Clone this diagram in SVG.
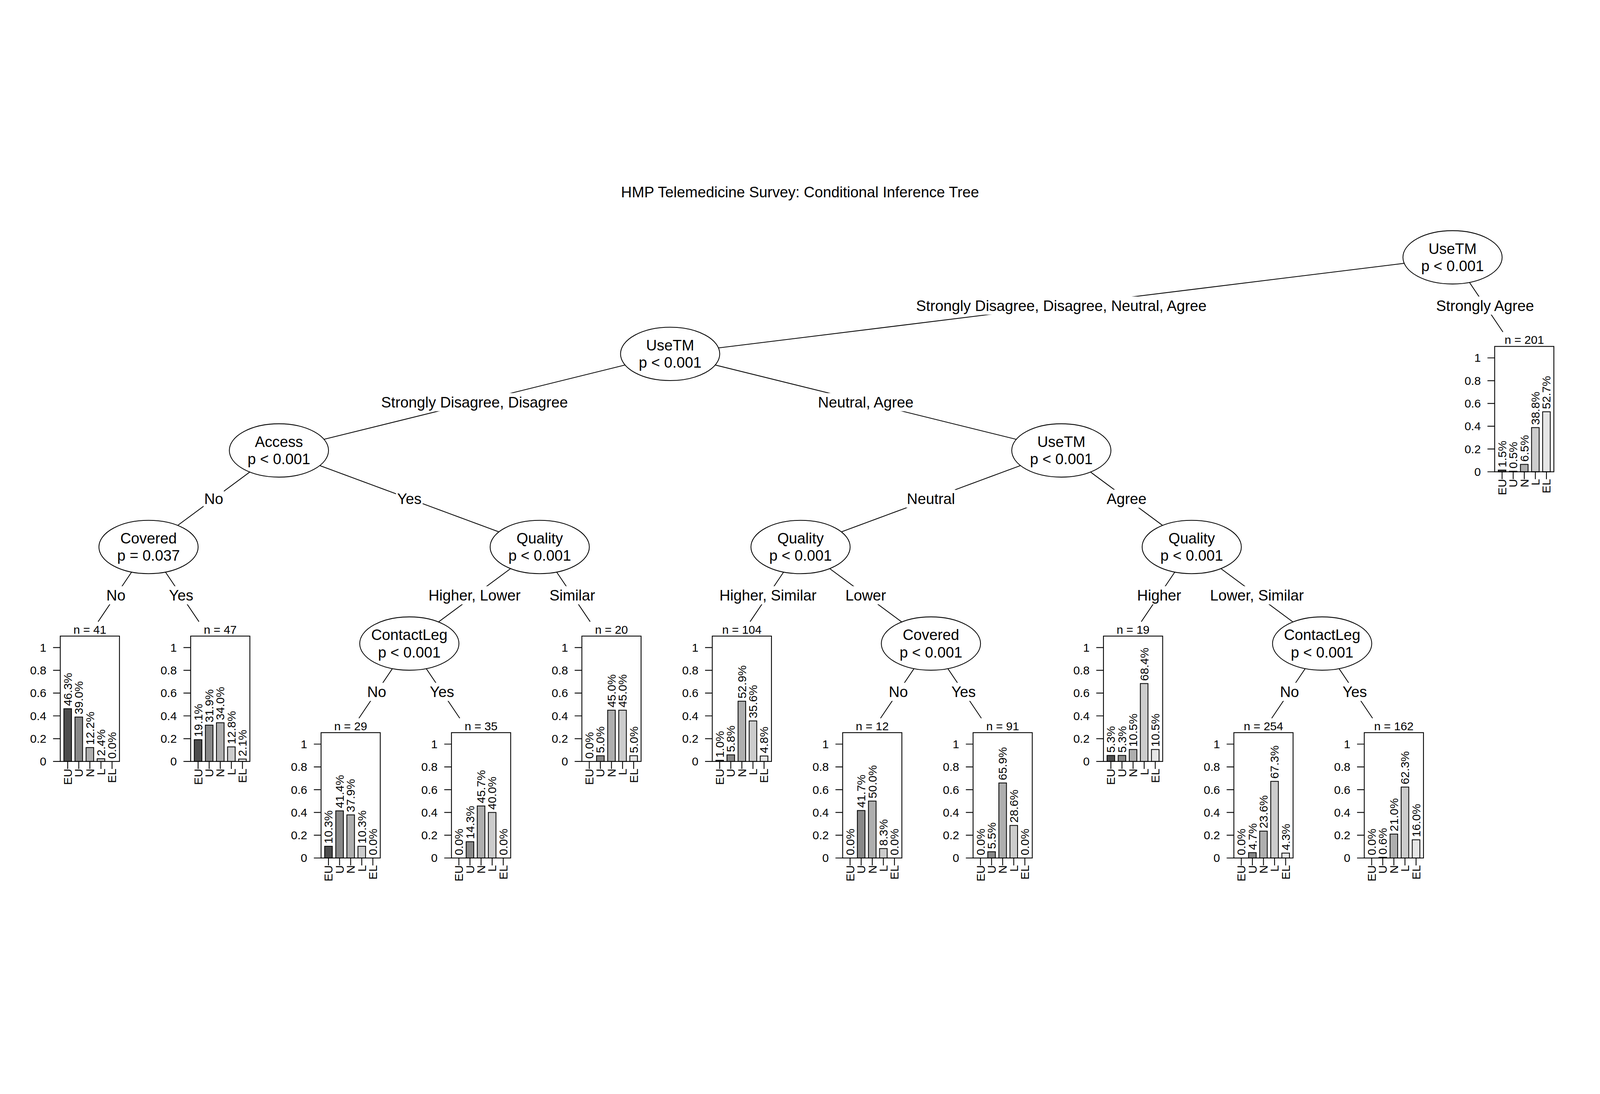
<svg xmlns="http://www.w3.org/2000/svg" width="6000" height="2800" viewBox="0 0 6000 2800">
<style>
svg{width:100vw;height:100vh;display:block}
text{font-family:"Liberation Sans",Arial,sans-serif;fill:#000}
.f56{font-size:56px}
.f44{font-size:44px}
.m{text-anchor:middle}
.e{text-anchor:end}
.edge{stroke:#000;stroke-width:3;fill:none}
.lb{fill:#fff;stroke:none}
.node ellipse{fill:#fff;stroke:#000;stroke-width:3}
.box{fill:none;stroke:#000;stroke-width:3.2}
.tk{stroke:#000;stroke-width:3.2;fill:none}
.c0,.c1,.c2,.c3,.c4{stroke:#000;stroke-width:3}
.c0{fill:#4D4D4D}.c1{fill:#888888}.c2{fill:#AEAEAE}.c3{fill:#CCCCCC}.c4{fill:#E6E6E6}
</style>
<rect x="0" y="0" width="6000" height="2800" fill="#fff"/>
<text class="f56 m" x="3000" y="89">HMP Telemedicine Survey: Conditional Inference Tree</text>

<g id="connectors">
<path class="edge" d="M5447 314L2513 676M5447 314L5636 594M2513 676L1046 1038M2513 676L3980 1038M1046 1038L557 1400M1046 1038L2024 1400M3980 1038L3002 1400M3980 1038L4469 1400M557 1400L367.9 1680M557 1400L746.1 1680M2024 1400L1535 1762M2024 1400L2213.1 1680M3002 1400L2812.9 1680M3002 1400L3491 1762M4469 1400L4279.9 1680M4469 1400L4958 1762M1535 1762L1345.9 2042M1535 1762L1724.1 2042M3491 1762L3301.9 2042M3491 1762L3680.1 2042M4958 1762L4768.9 2042M4958 1762L5147.1 2042"/>
<rect class="lb" x="3426" y="461" width="1108" height="68"/><text class="f56 m" x="3980" y="515">Strongly Disagree, Disagree, Neutral, Agree</text>
<rect class="lb" x="5382" y="461" width="374" height="68"/><text class="f56 m" x="5569" y="515">Strongly Agree</text>
<rect class="lb" x="1427.5" y="823" width="704" height="68"/><text class="f56 m" x="1779.5" y="877">Strongly Disagree, Disagree</text>
<rect class="lb" x="3064" y="823" width="365" height="68"/><text class="f56 m" x="3246.5" y="877">Neutral, Agree</text>
<rect class="lb" x="763.5" y="1185" width="76" height="68"/><text class="f56 m" x="801.5" y="1239">No</text>
<rect class="lb" x="1485" y="1185" width="100" height="68"/><text class="f56 m" x="1535" y="1239">Yes</text>
<rect class="lb" x="3399" y="1185" width="184" height="68"/><text class="f56 m" x="3491" y="1239">Neutral</text>
<rect class="lb" x="4148" y="1185" width="153" height="68"/><text class="f56 m" x="4224.5" y="1239">Agree</text>
<rect class="lb" x="396.75" y="1547" width="76" height="68"/><text class="f56 m" x="434.75" y="1601">No</text>
<rect class="lb" x="629.25" y="1547" width="100" height="68"/><text class="f56 m" x="679.25" y="1601">Yes</text>
<rect class="lb" x="1603" y="1547" width="353" height="68"/><text class="f56 m" x="1779.5" y="1601">Higher, Lower</text>
<rect class="lb" x="2058.75" y="1547" width="175" height="68"/><text class="f56 m" x="2146.25" y="1601">Similar</text>
<rect class="lb" x="2694.25" y="1547" width="371" height="68"/><text class="f56 m" x="2879.75" y="1601">Higher, Similar</text>
<rect class="lb" x="3168.5" y="1547" width="156" height="68"/><text class="f56 m" x="3246.5" y="1601">Lower</text>
<rect class="lb" x="4262.25" y="1547" width="169" height="68"/><text class="f56 m" x="4346.75" y="1601">Higher</text>
<rect class="lb" x="4534" y="1547" width="359" height="68"/><text class="f56 m" x="4713.5" y="1601">Lower, Similar</text>
<rect class="lb" x="1374.75" y="1909" width="76" height="68"/><text class="f56 m" x="1412.75" y="1963">No</text>
<rect class="lb" x="1607.25" y="1909" width="100" height="68"/><text class="f56 m" x="1657.25" y="1963">Yes</text>
<rect class="lb" x="3330.75" y="1909" width="76" height="68"/><text class="f56 m" x="3368.75" y="1963">No</text>
<rect class="lb" x="3563.25" y="1909" width="100" height="68"/><text class="f56 m" x="3613.25" y="1963">Yes</text>
<rect class="lb" x="4797.75" y="1909" width="76" height="68"/><text class="f56 m" x="4835.75" y="1963">No</text>
<rect class="lb" x="5030.25" y="1909" width="100" height="68"/><text class="f56 m" x="5080.25" y="1963">Yes</text>
</g>

<g id="node1" class="node"><ellipse cx="5447" cy="314" rx="186" ry="100"/><text class="f56 m" x="5447" y="301">UseTM</text><text class="f56 m" x="5447" y="366">p &lt; 0.001</text></g>
<g id="node2" class="node"><ellipse cx="2513" cy="676" rx="186" ry="100"/><text class="f56 m" x="2513" y="663">UseTM</text><text class="f56 m" x="2513" y="728">p &lt; 0.001</text></g>
<g id="node3" class="node"><ellipse cx="1046" cy="1038" rx="186" ry="100"/><text class="f56 m" x="1046" y="1025">Access</text><text class="f56 m" x="1046" y="1090">p &lt; 0.001</text></g>
<g id="node4" class="node"><ellipse cx="3980" cy="1038" rx="186" ry="100"/><text class="f56 m" x="3980" y="1025">UseTM</text><text class="f56 m" x="3980" y="1090">p &lt; 0.001</text></g>
<g id="node5" class="node"><ellipse cx="557" cy="1400" rx="186" ry="100"/><text class="f56 m" x="557" y="1387">Covered</text><text class="f56 m" x="557" y="1452">p = 0.037</text></g>
<g id="node6" class="node"><ellipse cx="2024" cy="1400" rx="186" ry="100"/><text class="f56 m" x="2024" y="1387">Quality</text><text class="f56 m" x="2024" y="1452">p &lt; 0.001</text></g>
<g id="node7" class="node"><ellipse cx="3002" cy="1400" rx="186" ry="100"/><text class="f56 m" x="3002" y="1387">Quality</text><text class="f56 m" x="3002" y="1452">p &lt; 0.001</text></g>
<g id="node8" class="node"><ellipse cx="4469" cy="1400" rx="186" ry="100"/><text class="f56 m" x="4469" y="1387">Quality</text><text class="f56 m" x="4469" y="1452">p &lt; 0.001</text></g>
<g id="node9" class="node"><ellipse cx="1535" cy="1762" rx="186" ry="100"/><text class="f56 m" x="1535" y="1749">ContactLeg</text><text class="f56 m" x="1535" y="1814">p &lt; 0.001</text></g>
<g id="node10" class="node"><ellipse cx="3491" cy="1762" rx="186" ry="100"/><text class="f56 m" x="3491" y="1749">Covered</text><text class="f56 m" x="3491" y="1814">p &lt; 0.001</text></g>
<g id="node11" class="node"><ellipse cx="4958" cy="1762" rx="186" ry="100"/><text class="f56 m" x="4958" y="1749">ContactLeg</text><text class="f56 m" x="4958" y="1814">p &lt; 0.001</text></g>

<g id="leaf1" transform="translate(226,1734)">
<text class="f44 m" x="111" y="-9">n = 41</text>
<rect class="c0" x="13.5" y="272.3" width="28.6" height="197.7"/><rect class="c1" x="55.1" y="303.5" width="28.6" height="166.5"/><rect class="c2" x="96.7" y="417.9" width="28.6" height="52.1"/><rect class="c3" x="138.3" y="459.8" width="28.6" height="10.2"/>
<text class="f44" transform="translate(43.2,262.3) rotate(-90)">46.3%</text><text class="f44" transform="translate(84.8,293.5) rotate(-90)">39.0%</text><text class="f44" transform="translate(126.4,407.9) rotate(-90)">12.2%</text><text class="f44" transform="translate(168,449.8) rotate(-90)">2.4%</text><text class="f44" transform="translate(209.6,460) rotate(-90)">0.0%</text>
<rect class="box" x="0" y="0" width="222" height="470"/>
<path class="tk" d="M-27 470H0M-27 384.6H0M-27 299.2H0M-27 213.8H0M-27 128.4H0M-27 43H0M27.8 470v28M69.4 470v28M111 470v28M152.6 470v28M194.2 470v28"/>
<text class="f44 e" x="-52" y="485.4">0</text><text class="f44 e" x="-52" y="400">0.2</text><text class="f44 e" x="-52" y="314.6">0.4</text><text class="f44 e" x="-52" y="229.2">0.6</text><text class="f44 e" x="-52" y="143.8">0.8</text><text class="f44 e" x="-52" y="58.4">1</text>
<text class="f44 e" transform="translate(43.2,497) rotate(-90)">EU</text><text class="f44 e" transform="translate(84.8,497) rotate(-90)">U</text><text class="f44 e" transform="translate(126.4,497) rotate(-90)">N</text><text class="f44 e" transform="translate(168,497) rotate(-90)">L</text><text class="f44 e" transform="translate(209.6,497) rotate(-90)">EL</text>
</g>

<g id="leaf2" transform="translate(715,1734)">
<text class="f44 m" x="111" y="-9">n = 47</text>
<rect class="c0" x="13.5" y="388.4" width="28.6" height="81.6"/><rect class="c1" x="55.1" y="333.8" width="28.6" height="136.2"/><rect class="c2" x="96.7" y="324.8" width="28.6" height="145.2"/><rect class="c3" x="138.3" y="415.3" width="28.6" height="54.7"/><rect class="c4" x="179.9" y="461" width="28.6" height="9"/>
<text class="f44" transform="translate(43.2,378.4) rotate(-90)">19.1%</text><text class="f44" transform="translate(84.8,323.8) rotate(-90)">31.9%</text><text class="f44" transform="translate(126.4,314.8) rotate(-90)">34.0%</text><text class="f44" transform="translate(168,405.3) rotate(-90)">12.8%</text><text class="f44" transform="translate(209.6,451) rotate(-90)">2.1%</text>
<rect class="box" x="0" y="0" width="222" height="470"/>
<path class="tk" d="M-27 470H0M-27 384.6H0M-27 299.2H0M-27 213.8H0M-27 128.4H0M-27 43H0M27.8 470v28M69.4 470v28M111 470v28M152.6 470v28M194.2 470v28"/>
<text class="f44 e" x="-52" y="485.4">0</text><text class="f44 e" x="-52" y="400">0.2</text><text class="f44 e" x="-52" y="314.6">0.4</text><text class="f44 e" x="-52" y="229.2">0.6</text><text class="f44 e" x="-52" y="143.8">0.8</text><text class="f44 e" x="-52" y="58.4">1</text>
<text class="f44 e" transform="translate(43.2,497) rotate(-90)">EU</text><text class="f44 e" transform="translate(84.8,497) rotate(-90)">U</text><text class="f44 e" transform="translate(126.4,497) rotate(-90)">N</text><text class="f44 e" transform="translate(168,497) rotate(-90)">L</text><text class="f44 e" transform="translate(209.6,497) rotate(-90)">EL</text>
</g>

<g id="leaf3" transform="translate(1204,2096)">
<text class="f44 m" x="111" y="-9">n = 29</text>
<rect class="c0" x="13.5" y="426" width="28.6" height="44"/><rect class="c1" x="55.1" y="293.2" width="28.6" height="176.8"/><rect class="c2" x="96.7" y="308.2" width="28.6" height="161.8"/><rect class="c3" x="138.3" y="426" width="28.6" height="44"/>
<text class="f44" transform="translate(43.2,416) rotate(-90)">10.3%</text><text class="f44" transform="translate(84.8,283.2) rotate(-90)">41.4%</text><text class="f44" transform="translate(126.4,298.2) rotate(-90)">37.9%</text><text class="f44" transform="translate(168,416) rotate(-90)">10.3%</text><text class="f44" transform="translate(209.6,460) rotate(-90)">0.0%</text>
<rect class="box" x="0" y="0" width="222" height="470"/>
<path class="tk" d="M-27 470H0M-27 384.6H0M-27 299.2H0M-27 213.8H0M-27 128.4H0M-27 43H0M27.8 470v28M69.4 470v28M111 470v28M152.6 470v28M194.2 470v28"/>
<text class="f44 e" x="-52" y="485.4">0</text><text class="f44 e" x="-52" y="400">0.2</text><text class="f44 e" x="-52" y="314.6">0.4</text><text class="f44 e" x="-52" y="229.2">0.6</text><text class="f44 e" x="-52" y="143.8">0.8</text><text class="f44 e" x="-52" y="58.4">1</text>
<text class="f44 e" transform="translate(43.2,497) rotate(-90)">EU</text><text class="f44 e" transform="translate(84.8,497) rotate(-90)">U</text><text class="f44 e" transform="translate(126.4,497) rotate(-90)">N</text><text class="f44 e" transform="translate(168,497) rotate(-90)">L</text><text class="f44 e" transform="translate(209.6,497) rotate(-90)">EL</text>
</g>

<g id="leaf4" transform="translate(1693,2096)">
<text class="f44 m" x="111" y="-9">n = 35</text>
<rect class="c1" x="55.1" y="408.9" width="28.6" height="61.1"/><rect class="c2" x="96.7" y="274.9" width="28.6" height="195.1"/><rect class="c3" x="138.3" y="299.2" width="28.6" height="170.8"/>
<text class="f44" transform="translate(43.2,460) rotate(-90)">0.0%</text><text class="f44" transform="translate(84.8,398.9) rotate(-90)">14.3%</text><text class="f44" transform="translate(126.4,264.9) rotate(-90)">45.7%</text><text class="f44" transform="translate(168,289.2) rotate(-90)">40.0%</text><text class="f44" transform="translate(209.6,460) rotate(-90)">0.0%</text>
<rect class="box" x="0" y="0" width="222" height="470"/>
<path class="tk" d="M-27 470H0M-27 384.6H0M-27 299.2H0M-27 213.8H0M-27 128.4H0M-27 43H0M27.8 470v28M69.4 470v28M111 470v28M152.6 470v28M194.2 470v28"/>
<text class="f44 e" x="-52" y="485.4">0</text><text class="f44 e" x="-52" y="400">0.2</text><text class="f44 e" x="-52" y="314.6">0.4</text><text class="f44 e" x="-52" y="229.2">0.6</text><text class="f44 e" x="-52" y="143.8">0.8</text><text class="f44 e" x="-52" y="58.4">1</text>
<text class="f44 e" transform="translate(43.2,497) rotate(-90)">EU</text><text class="f44 e" transform="translate(84.8,497) rotate(-90)">U</text><text class="f44 e" transform="translate(126.4,497) rotate(-90)">N</text><text class="f44 e" transform="translate(168,497) rotate(-90)">L</text><text class="f44 e" transform="translate(209.6,497) rotate(-90)">EL</text>
</g>

<g id="leaf5" transform="translate(2182,1734)">
<text class="f44 m" x="111" y="-9">n = 20</text>
<rect class="c1" x="55.1" y="448.6" width="28.6" height="21.4"/><rect class="c2" x="96.7" y="277.8" width="28.6" height="192.2"/><rect class="c3" x="138.3" y="277.8" width="28.6" height="192.2"/><rect class="c4" x="179.9" y="448.6" width="28.6" height="21.4"/>
<text class="f44" transform="translate(43.2,460) rotate(-90)">0.0%</text><text class="f44" transform="translate(84.8,438.6) rotate(-90)">5.0%</text><text class="f44" transform="translate(126.4,267.8) rotate(-90)">45.0%</text><text class="f44" transform="translate(168,267.8) rotate(-90)">45.0%</text><text class="f44" transform="translate(209.6,438.6) rotate(-90)">5.0%</text>
<rect class="box" x="0" y="0" width="222" height="470"/>
<path class="tk" d="M-27 470H0M-27 384.6H0M-27 299.2H0M-27 213.8H0M-27 128.4H0M-27 43H0M27.8 470v28M69.4 470v28M111 470v28M152.6 470v28M194.2 470v28"/>
<text class="f44 e" x="-52" y="485.4">0</text><text class="f44 e" x="-52" y="400">0.2</text><text class="f44 e" x="-52" y="314.6">0.4</text><text class="f44 e" x="-52" y="229.2">0.6</text><text class="f44 e" x="-52" y="143.8">0.8</text><text class="f44 e" x="-52" y="58.4">1</text>
<text class="f44 e" transform="translate(43.2,497) rotate(-90)">EU</text><text class="f44 e" transform="translate(84.8,497) rotate(-90)">U</text><text class="f44 e" transform="translate(126.4,497) rotate(-90)">N</text><text class="f44 e" transform="translate(168,497) rotate(-90)">L</text><text class="f44 e" transform="translate(209.6,497) rotate(-90)">EL</text>
</g>

<g id="leaf6" transform="translate(2671,1734)">
<text class="f44 m" x="111" y="-9">n = 104</text>
<rect class="c0" x="13.5" y="465.7" width="28.6" height="4.3"/><rect class="c1" x="55.1" y="445.2" width="28.6" height="24.8"/><rect class="c2" x="96.7" y="244.1" width="28.6" height="225.9"/><rect class="c3" x="138.3" y="318" width="28.6" height="152"/><rect class="c4" x="179.9" y="449.5" width="28.6" height="20.5"/>
<text class="f44" transform="translate(43.2,455.7) rotate(-90)">1.0%</text><text class="f44" transform="translate(84.8,435.2) rotate(-90)">5.8%</text><text class="f44" transform="translate(126.4,234.1) rotate(-90)">52.9%</text><text class="f44" transform="translate(168,308) rotate(-90)">35.6%</text><text class="f44" transform="translate(209.6,439.5) rotate(-90)">4.8%</text>
<rect class="box" x="0" y="0" width="222" height="470"/>
<path class="tk" d="M-27 470H0M-27 384.6H0M-27 299.2H0M-27 213.8H0M-27 128.4H0M-27 43H0M27.8 470v28M69.4 470v28M111 470v28M152.6 470v28M194.2 470v28"/>
<text class="f44 e" x="-52" y="485.4">0</text><text class="f44 e" x="-52" y="400">0.2</text><text class="f44 e" x="-52" y="314.6">0.4</text><text class="f44 e" x="-52" y="229.2">0.6</text><text class="f44 e" x="-52" y="143.8">0.8</text><text class="f44 e" x="-52" y="58.4">1</text>
<text class="f44 e" transform="translate(43.2,497) rotate(-90)">EU</text><text class="f44 e" transform="translate(84.8,497) rotate(-90)">U</text><text class="f44 e" transform="translate(126.4,497) rotate(-90)">N</text><text class="f44 e" transform="translate(168,497) rotate(-90)">L</text><text class="f44 e" transform="translate(209.6,497) rotate(-90)">EL</text>
</g>

<g id="leaf7" transform="translate(3160,2096)">
<text class="f44 m" x="111" y="-9">n = 12</text>
<rect class="c1" x="55.1" y="291.9" width="28.6" height="178.1"/><rect class="c2" x="96.7" y="256.5" width="28.6" height="213.5"/><rect class="c3" x="138.3" y="434.6" width="28.6" height="35.4"/>
<text class="f44" transform="translate(43.2,460) rotate(-90)">0.0%</text><text class="f44" transform="translate(84.8,281.9) rotate(-90)">41.7%</text><text class="f44" transform="translate(126.4,246.5) rotate(-90)">50.0%</text><text class="f44" transform="translate(168,424.6) rotate(-90)">8.3%</text><text class="f44" transform="translate(209.6,460) rotate(-90)">0.0%</text>
<rect class="box" x="0" y="0" width="222" height="470"/>
<path class="tk" d="M-27 470H0M-27 384.6H0M-27 299.2H0M-27 213.8H0M-27 128.4H0M-27 43H0M27.8 470v28M69.4 470v28M111 470v28M152.6 470v28M194.2 470v28"/>
<text class="f44 e" x="-52" y="485.4">0</text><text class="f44 e" x="-52" y="400">0.2</text><text class="f44 e" x="-52" y="314.6">0.4</text><text class="f44 e" x="-52" y="229.2">0.6</text><text class="f44 e" x="-52" y="143.8">0.8</text><text class="f44 e" x="-52" y="58.4">1</text>
<text class="f44 e" transform="translate(43.2,497) rotate(-90)">EU</text><text class="f44 e" transform="translate(84.8,497) rotate(-90)">U</text><text class="f44 e" transform="translate(126.4,497) rotate(-90)">N</text><text class="f44 e" transform="translate(168,497) rotate(-90)">L</text><text class="f44 e" transform="translate(209.6,497) rotate(-90)">EL</text>
</g>

<g id="leaf8" transform="translate(3649,2096)">
<text class="f44 m" x="111" y="-9">n = 91</text>
<rect class="c1" x="55.1" y="446.5" width="28.6" height="23.5"/><rect class="c2" x="96.7" y="188.6" width="28.6" height="281.4"/><rect class="c3" x="138.3" y="347.9" width="28.6" height="122.1"/>
<text class="f44" transform="translate(43.2,460) rotate(-90)">0.0%</text><text class="f44" transform="translate(84.8,436.5) rotate(-90)">5.5%</text><text class="f44" transform="translate(126.4,178.6) rotate(-90)">65.9%</text><text class="f44" transform="translate(168,337.9) rotate(-90)">28.6%</text><text class="f44" transform="translate(209.6,460) rotate(-90)">0.0%</text>
<rect class="box" x="0" y="0" width="222" height="470"/>
<path class="tk" d="M-27 470H0M-27 384.6H0M-27 299.2H0M-27 213.8H0M-27 128.4H0M-27 43H0M27.8 470v28M69.4 470v28M111 470v28M152.6 470v28M194.2 470v28"/>
<text class="f44 e" x="-52" y="485.4">0</text><text class="f44 e" x="-52" y="400">0.2</text><text class="f44 e" x="-52" y="314.6">0.4</text><text class="f44 e" x="-52" y="229.2">0.6</text><text class="f44 e" x="-52" y="143.8">0.8</text><text class="f44 e" x="-52" y="58.4">1</text>
<text class="f44 e" transform="translate(43.2,497) rotate(-90)">EU</text><text class="f44 e" transform="translate(84.8,497) rotate(-90)">U</text><text class="f44 e" transform="translate(126.4,497) rotate(-90)">N</text><text class="f44 e" transform="translate(168,497) rotate(-90)">L</text><text class="f44 e" transform="translate(209.6,497) rotate(-90)">EL</text>
</g>

<g id="leaf9" transform="translate(4138,1734)">
<text class="f44 m" x="111" y="-9">n = 19</text>
<rect class="c0" x="13.5" y="447.4" width="28.6" height="22.6"/><rect class="c1" x="55.1" y="447.4" width="28.6" height="22.6"/><rect class="c2" x="96.7" y="425.2" width="28.6" height="44.8"/><rect class="c3" x="138.3" y="177.9" width="28.6" height="292.1"/><rect class="c4" x="179.9" y="425.2" width="28.6" height="44.8"/>
<text class="f44" transform="translate(43.2,437.4) rotate(-90)">5.3%</text><text class="f44" transform="translate(84.8,437.4) rotate(-90)">5.3%</text><text class="f44" transform="translate(126.4,415.2) rotate(-90)">10.5%</text><text class="f44" transform="translate(168,167.9) rotate(-90)">68.4%</text><text class="f44" transform="translate(209.6,415.2) rotate(-90)">10.5%</text>
<rect class="box" x="0" y="0" width="222" height="470"/>
<path class="tk" d="M-27 470H0M-27 384.6H0M-27 299.2H0M-27 213.8H0M-27 128.4H0M-27 43H0M27.8 470v28M69.4 470v28M111 470v28M152.6 470v28M194.2 470v28"/>
<text class="f44 e" x="-52" y="485.4">0</text><text class="f44 e" x="-52" y="400">0.2</text><text class="f44 e" x="-52" y="314.6">0.4</text><text class="f44 e" x="-52" y="229.2">0.6</text><text class="f44 e" x="-52" y="143.8">0.8</text><text class="f44 e" x="-52" y="58.4">1</text>
<text class="f44 e" transform="translate(43.2,497) rotate(-90)">EU</text><text class="f44 e" transform="translate(84.8,497) rotate(-90)">U</text><text class="f44 e" transform="translate(126.4,497) rotate(-90)">N</text><text class="f44 e" transform="translate(168,497) rotate(-90)">L</text><text class="f44 e" transform="translate(209.6,497) rotate(-90)">EL</text>
</g>

<g id="leaf10" transform="translate(4627,2096)">
<text class="f44 m" x="111" y="-9">n = 254</text>
<rect class="c1" x="55.1" y="449.9" width="28.6" height="20.1"/><rect class="c2" x="96.7" y="369.2" width="28.6" height="100.8"/><rect class="c3" x="138.3" y="182.6" width="28.6" height="287.4"/><rect class="c4" x="179.9" y="451.6" width="28.6" height="18.4"/>
<text class="f44" transform="translate(43.2,460) rotate(-90)">0.0%</text><text class="f44" transform="translate(84.8,439.9) rotate(-90)">4.7%</text><text class="f44" transform="translate(126.4,359.2) rotate(-90)">23.6%</text><text class="f44" transform="translate(168,172.6) rotate(-90)">67.3%</text><text class="f44" transform="translate(209.6,441.6) rotate(-90)">4.3%</text>
<rect class="box" x="0" y="0" width="222" height="470"/>
<path class="tk" d="M-27 470H0M-27 384.6H0M-27 299.2H0M-27 213.8H0M-27 128.4H0M-27 43H0M27.8 470v28M69.4 470v28M111 470v28M152.6 470v28M194.2 470v28"/>
<text class="f44 e" x="-52" y="485.4">0</text><text class="f44 e" x="-52" y="400">0.2</text><text class="f44 e" x="-52" y="314.6">0.4</text><text class="f44 e" x="-52" y="229.2">0.6</text><text class="f44 e" x="-52" y="143.8">0.8</text><text class="f44 e" x="-52" y="58.4">1</text>
<text class="f44 e" transform="translate(43.2,497) rotate(-90)">EU</text><text class="f44 e" transform="translate(84.8,497) rotate(-90)">U</text><text class="f44 e" transform="translate(126.4,497) rotate(-90)">N</text><text class="f44 e" transform="translate(168,497) rotate(-90)">L</text><text class="f44 e" transform="translate(209.6,497) rotate(-90)">EL</text>
</g>

<g id="leaf11" transform="translate(5116,2096)">
<text class="f44 m" x="111" y="-9">n = 162</text>
<rect class="c1" x="55.1" y="467.4" width="28.6" height="2.6"/><rect class="c2" x="96.7" y="380.3" width="28.6" height="89.7"/><rect class="c3" x="138.3" y="204" width="28.6" height="266"/><rect class="c4" x="179.9" y="401.7" width="28.6" height="68.3"/>
<text class="f44" transform="translate(43.2,460) rotate(-90)">0.0%</text><text class="f44" transform="translate(84.8,457.4) rotate(-90)">0.6%</text><text class="f44" transform="translate(126.4,370.3) rotate(-90)">21.0%</text><text class="f44" transform="translate(168,194) rotate(-90)">62.3%</text><text class="f44" transform="translate(209.6,391.7) rotate(-90)">16.0%</text>
<rect class="box" x="0" y="0" width="222" height="470"/>
<path class="tk" d="M-27 470H0M-27 384.6H0M-27 299.2H0M-27 213.8H0M-27 128.4H0M-27 43H0M27.8 470v28M69.4 470v28M111 470v28M152.6 470v28M194.2 470v28"/>
<text class="f44 e" x="-52" y="485.4">0</text><text class="f44 e" x="-52" y="400">0.2</text><text class="f44 e" x="-52" y="314.6">0.4</text><text class="f44 e" x="-52" y="229.2">0.6</text><text class="f44 e" x="-52" y="143.8">0.8</text><text class="f44 e" x="-52" y="58.4">1</text>
<text class="f44 e" transform="translate(43.2,497) rotate(-90)">EU</text><text class="f44 e" transform="translate(84.8,497) rotate(-90)">U</text><text class="f44 e" transform="translate(126.4,497) rotate(-90)">N</text><text class="f44 e" transform="translate(168,497) rotate(-90)">L</text><text class="f44 e" transform="translate(209.6,497) rotate(-90)">EL</text>
</g>

<g id="leaf12" transform="translate(5605,648)">
<text class="f44 m" x="111" y="-9">n = 201</text>
<rect class="c0" x="13.5" y="463.6" width="28.6" height="6.4"/><rect class="c1" x="55.1" y="467.9" width="28.6" height="2.1"/><rect class="c2" x="96.7" y="442.2" width="28.6" height="27.8"/><rect class="c3" x="138.3" y="304.3" width="28.6" height="165.7"/><rect class="c4" x="179.9" y="245" width="28.6" height="225"/>
<text class="f44" transform="translate(43.2,453.6) rotate(-90)">1.5%</text><text class="f44" transform="translate(84.8,457.9) rotate(-90)">0.5%</text><text class="f44" transform="translate(126.4,432.2) rotate(-90)">6.5%</text><text class="f44" transform="translate(168,294.3) rotate(-90)">38.8%</text><text class="f44" transform="translate(209.6,235) rotate(-90)">52.7%</text>
<rect class="box" x="0" y="0" width="222" height="470"/>
<path class="tk" d="M-27 470H0M-27 384.6H0M-27 299.2H0M-27 213.8H0M-27 128.4H0M-27 43H0M27.8 470v28M69.4 470v28M111 470v28M152.6 470v28M194.2 470v28"/>
<text class="f44 e" x="-52" y="485.4">0</text><text class="f44 e" x="-52" y="400">0.2</text><text class="f44 e" x="-52" y="314.6">0.4</text><text class="f44 e" x="-52" y="229.2">0.6</text><text class="f44 e" x="-52" y="143.8">0.8</text><text class="f44 e" x="-52" y="58.4">1</text>
<text class="f44 e" transform="translate(43.2,497) rotate(-90)">EU</text><text class="f44 e" transform="translate(84.8,497) rotate(-90)">U</text><text class="f44 e" transform="translate(126.4,497) rotate(-90)">N</text><text class="f44 e" transform="translate(168,497) rotate(-90)">L</text><text class="f44 e" transform="translate(209.6,497) rotate(-90)">EL</text>
</g>
</svg>
